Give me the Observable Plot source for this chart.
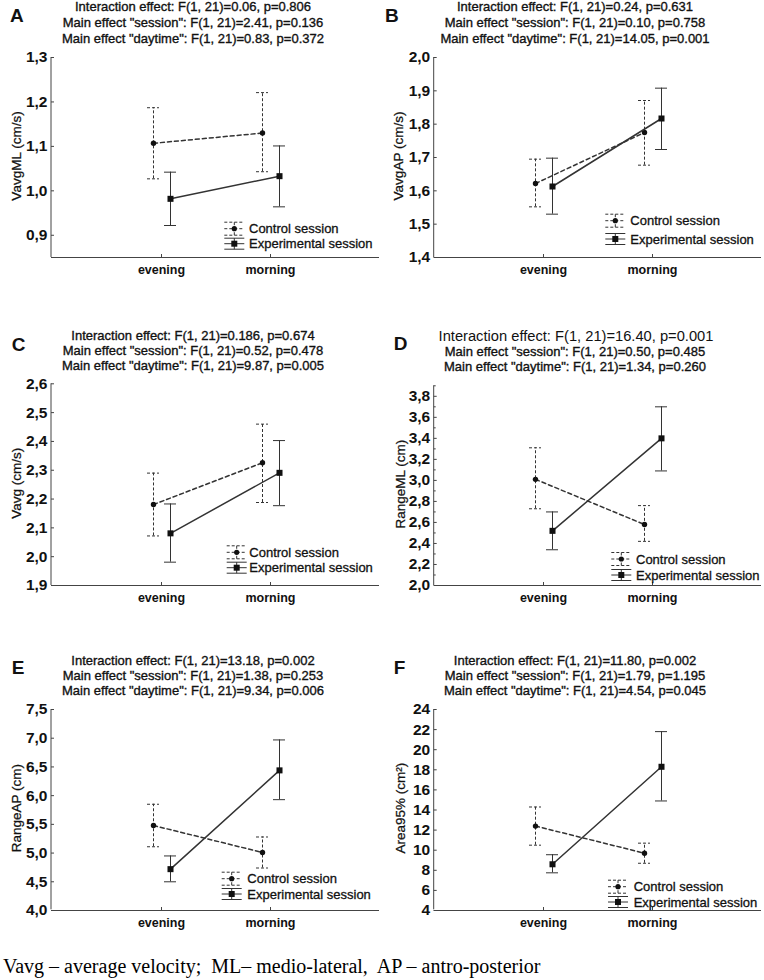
<!DOCTYPE html>
<html>
<head>
<meta charset="utf-8">
<script src="https://cdn.jsdelivr.net/npm/d3@7"></script>
<script src="https://cdn.jsdelivr.net/npm/@observablehq/plot@0.6"></script>
<style>
  html, body { margin: 0; padding: 0; background: #fff; }
  #root { position: relative; width: 764px; height: 980px; overflow: hidden; }
  .panel { position: absolute; }
  #caption { position: absolute; left: 3px; top: 956px; font-family: "Liberation Serif", "Times New Roman", serif; font-size: 20px; line-height: 20px; white-space: pre; color: #000; }
</style>
</head>
<body>
<div id="root"></div>
<script>
// ---------------- data ----------------
const daytimes = ["evening", "morning"];
const sessionNames = ["Control session", "Experimental session"];
const panelLetters = ["A", "B", "C", "D", "E", "F"];
const yTitles = ["VavgML (cm/s)", "VavgAP (cm/s)", "Vavg (cm/s)", "RangeML (cm)", "RangeAP (cm)", "Area95% (cm²)"];
const interactionLines = [
  "Interaction effect: F(1, 21)=0.06, p=0.806",
  "Interaction effect: F(1, 21)=0.24, p=0.631",
  "Interaction effect: F(1, 21)=0.186, p=0.674",
  "Interaction effect: F(1, 21)=16.40, p=0.001",
  "Interaction effect: F(1, 21)=13.18, p=0.002",
  "Interaction effect: F(1, 21)=11.80, p=0.002"
];
const sessionLines = [
  'Main effect "session": F(1, 21)=2.41, p=0.136',
  'Main effect "session": F(1, 21)=0.10, p=0.758',
  'Main effect "session": F(1, 21)=0.52, p=0.478',
  'Main effect "session": F(1, 21)=0.50, p=0.485',
  'Main effect "session": F(1, 21)=1.38, p=0.253',
  'Main effect "session": F(1, 21)=1.79, p=1.195'
];
const daytimeLines = [
  'Main effect "daytime": F(1, 21)=0.83, p=0.372',
  'Main effect "daytime": F(1, 21)=14.05, p=0.001',
  'Main effect "daytime": F(1, 21)=9.87, p=0.005',
  'Main effect "daytime": F(1, 21)=1.34, p=0.260',
  'Main effect "daytime": F(1, 21)=9.34, p=0.006',
  'Main effect "daytime": F(1, 21)=4.54, p=0.045'
];
const yDomains = [[0.85, 1.3], [1.4, 2.0], [1.9, 2.6], [2.0, 3.9], [4.0, 7.5], [4, 24]];
const yTickValues = [
  [0.9, 1.0, 1.1, 1.2, 1.3],
  [1.4, 1.5, 1.6, 1.7, 1.8, 1.9, 2.0],
  [1.9, 2.0, 2.1, 2.2, 2.3, 2.4, 2.5, 2.6],
  [2.0, 2.2, 2.4, 2.6, 2.8, 3.0, 3.2, 3.4, 3.6, 3.8],
  [4.0, 4.5, 5.0, 5.5, 6.0, 6.5, 7.0, 7.5],
  [4, 6, 8, 10, 12, 14, 16, 18, 20, 22, 24]
];
const yMinorTicks = [[], [], [], [2.1, 2.3, 2.5, 2.7, 2.9, 3.1, 3.3, 3.5, 3.7, 3.9], [], []];
// means and 95% CI (evening, morning)
const ctrlMean = [[1.107, 1.130], [1.622, 1.775], [2.181, 2.326], [3.01, 2.58], [5.48, 5.01], [12.4, 9.7]];
const ctrlLow  = [[1.027, 1.043], [1.552, 1.677], [2.072, 2.188], [2.73, 2.42], [5.11, 4.74], [10.5, 8.7]];
const ctrlHigh = [[1.187, 1.221], [1.695, 1.871], [2.290, 2.460], [3.31, 2.76], [5.85, 5.28], [14.3, 10.7]];
const expMean  = [[0.982, 1.033], [1.613, 1.817], [2.081, 2.291], [2.52, 3.40], [4.72, 6.44], [8.6, 18.3]];
const expLow   = [[0.922, 0.964], [1.530, 1.724], [1.981, 2.177], [2.34, 3.09], [4.50, 5.93], [7.75, 14.9]];
const expHigh  = [[1.042, 1.101], [1.698, 1.908], [2.183, 2.403], [2.70, 3.70], [4.95, 6.97], [9.55, 21.8]];
const captionText = "Vavg – average velocity;  ML– medio-lateral,  AP – antro-posterior";

// ---------------- layout (page pixels) ----------------
const layout = [
  {col: 0, rowTop: 0,   frameTop: 57,    frameBottom: 257,   titleY: [11, 27, 42.5],     letter: [10, 21.7], yLabelX: 16.7, legX: 234.3, legTextX: 249,   legY: [228.7, 243.7]},
  {col: 1, rowTop: 0,   frameTop: 57,    frameBottom: 257,   titleY: [11, 27, 42.5],     letter: [3, 21.7],  yLabelX: 16.7, legX: 233.3, legTextX: 248.3, legY: [220.7, 239]},
  {col: 0, rowTop: 300, frameTop: 383.3, frameBottom: 585,   titleY: [339.6, 354.6, 369.6], letter: [11.7, 350.7], yLabelX: 16.7, legX: 236.7, legTextX: 249.3, legY: [552.3, 567.7]},
  {col: 1, rowTop: 300, frameTop: 385.3, frameBottom: 585,   titleY: [341.3, 356.3, 371.3], letter: [11.7, 350], yLabelX: 18.3, legX: 239.3, legTextX: 254, legY: [559, 575], bigFirst: true},
  {col: 0, rowTop: 610, frameTop: 709,   frameBottom: 909.3, titleY: [664.6, 679.6, 694.6], letter: [11.7, 674], yLabelX: 16.7, legX: 231.7, legTextX: 247.3, legY: [878.7, 894]},
  {col: 1, rowTop: 610, frameTop: 709,   frameBottom: 909.3, titleY: [664.6, 679.6, 694.6], letter: [11.7, 674], yLabelX: 18.3, legX: 236, legTextX: 251.7, legY: [886.7, 902]}
];

const FONT = "'Liberation Sans', Arial, sans-serif";
const INK = "#111";
const LINE = "#333";
const AXIS = "#444";
const root = document.getElementById("root");

layout.forEach((L, i) => {
  const colX = L.col * 382;
  const mt = L.frameTop - L.rowTop;
  const mb = 32;
  const H = Math.ceil(L.frameBottom - L.rowTop + mb);
  const ml = L.col === 0 ? 51 : 51.7;

  const ctrl = daytimes.map((d, j) => ({daytime: d, session: sessionNames[0], mean: ctrlMean[i][j], low: ctrlLow[i][j], high: ctrlHigh[i][j]}));
  const exp = daytimes.map((d, j) => ({daytime: d, session: sessionNames[1], mean: expMean[i][j], low: expLow[i][j], high: expHigh[i][j]}));
  const fmt = i === 5 ? d3.format("d") : (d => d3.format(".1f")(d).replace(".", ","));

  const marks = [
    Plot.axisY({ticks: yTickValues[i], tickFormat: fmt, tickSize: -3, tickPadding: 7, label: null, stroke: AXIS}),
    Plot.axisX({tickSize: -3, tickPadding: 11, label: null, stroke: AXIS}),
    Plot.ruleY([yDomains[i][0]], {stroke: AXIS})
  ];
  if (yMinorTicks[i].length) {
    marks.push(Plot.axisY({ticks: yMinorTicks[i], tickFormat: () => "", tickSize: -2, label: null, stroke: AXIS}));
  }
  const dC = -8, dE = 9;
  marks.push(
    Plot.ruleX(ctrl, {x: "daytime", y1: "low", y2: "high", dx: dC, stroke: LINE, strokeDasharray: "3,2"}),
    Plot.tickY(ctrl, {x: "daytime", y: "high", dx: dC, stroke: LINE, strokeDasharray: "3,2"}),
    Plot.tickY(ctrl, {x: "daytime", y: "low", dx: dC, stroke: LINE, strokeDasharray: "3,2"}),
    Plot.line(ctrl, {x: "daytime", y: "mean", dx: dC, stroke: LINE, strokeDasharray: "4,3"}),
    Plot.dot(ctrl, {x: "daytime", y: "mean", dx: dC, r: 2.7, fill: INK, stroke: null}),
    Plot.ruleX(exp, {x: "daytime", y1: "low", y2: "high", dx: dE, stroke: LINE}),
    Plot.tickY(exp, {x: "daytime", y: "high", dx: dE, stroke: LINE}),
    Plot.tickY(exp, {x: "daytime", y: "low", dx: dE, stroke: LINE}),
    Plot.line(exp, {x: "daytime", y: "mean", dx: dE, stroke: LINE}),
    Plot.dot(exp, {x: "daytime", y: "mean", dx: dE, r: 3.4, symbol: "square", fill: INK, stroke: null})
  );

  const svgEl = Plot.plot({
    width: 382,
    height: H,
    marginLeft: ml,
    marginRight: 3,
    marginTop: mt,
    marginBottom: mb,
    style: {fontFamily: FONT, color: INK, background: "transparent", overflow: "visible"},
    x: {type: "band", domain: daytimes, paddingInner: 0.89, paddingOuter: 0.945},
    y: {domain: yDomains[i]},
    marks
  });

  const div = document.createElement("div");
  div.className = "panel";
  div.style.left = colX + "px";
  div.style.top = L.rowTop + "px";
  div.appendChild(svgEl);
  root.appendChild(div);

  const svg = d3.select(svgEl);
  // axis tick label fonts
  svg.selectAll("g[aria-label='y-axis tick label']")
    .attr("font-size", 15.5).attr("font-weight", "bold").attr("fill", INK);
  svg.selectAll("g[aria-label='y-axis tick label'] text").attr("font-size", null);
  svg.selectAll("g[aria-label='x-axis tick label']")
    .attr("font-size", 12.5).attr("font-weight", "bold").attr("fill", INK);
  svg.selectAll("g[aria-label='x-axis tick label'] text").attr("font-size", null);

  // left axis line (frame edge)
  svg.append("line")
    .attr("x1", ml).attr("x2", ml)
    .attr("y1", mt).attr("y2", L.frameBottom - L.rowTop)
    .attr("stroke", AXIS).attr("stroke-width", 1);

  const g = svg.append("g").attr("font-family", FONT).attr("fill", INK).attr("text-anchor", "start");

  // panel letter
  g.append("text").attr("x", L.letter[0]).attr("y", L.letter[1] - L.rowTop)
    .attr("font-size", 19).attr("font-weight", "bold").text(panelLetters[i]);

  // titles
  const titles = [interactionLines[i], sessionLines[i], daytimeLines[i]];
  titles.forEach((t, k) => {
    const big = L.bigFirst && k === 0;
    g.append("text")
      .attr("x", 193 + (big ? 1 : 0))
      .attr("y", L.titleY[k] - L.rowTop)
      .attr("text-anchor", "middle")
      .attr("font-size", big ? 14.7 : 13)
      .attr("stroke", big ? "none" : INK)
      .attr("stroke-width", 0.35)
      .text(t);
  });

  // y axis label
  const cy = (L.frameTop + L.frameBottom) / 2 - 1 - L.rowTop;
  g.append("text")
    .attr("transform", `translate(${L.yLabelX},${cy}) rotate(-90)`)
    .attr("text-anchor", "middle").attr("dy", "0.35em")
    .attr("font-size", 13.5).attr("stroke", INK).attr("stroke-width", 0.25)
    .text(yTitles[i]);

  // legend
  const leg = g.append("g");
  [0, 1].forEach(k => {
    const y = L.legY[k] - L.rowTop;
    const x = L.legX;
    const dashed = k === 0;
    const half = 10, cap = k === 0 ? 6.5 : 5.5;
    const s = leg.append("g").attr("stroke", LINE).attr("stroke-width", 1)
      .attr("stroke-dasharray", dashed ? "3,2" : null);
    s.append("line").attr("x1", x - half).attr("x2", x + half).attr("y1", y - cap).attr("y2", y - cap);
    s.append("line").attr("x1", x - half).attr("x2", x + half).attr("y1", y + cap).attr("y2", y + cap);
    s.append("line").attr("x1", x - half).attr("x2", x + half).attr("y1", y).attr("y2", y);
    s.append("line").attr("x1", x).attr("x2", x).attr("y1", y - cap).attr("y2", y + cap);
    if (dashed) leg.append("circle").attr("cx", x).attr("cy", y).attr("r", 2.6).attr("fill", INK);
    else leg.append("rect").attr("x", x - 3).attr("y", y - 3).attr("width", 6).attr("height", 6).attr("fill", INK);
    leg.append("text").attr("x", L.legTextX).attr("y", y).attr("dy", "0.35em")
      .attr("font-size", 13).attr("stroke", INK).attr("stroke-width", 0.3)
      .text(sessionNames[k]);
  });
});

const cap = document.createElement("div");
cap.id = "caption";
cap.textContent = captionText;
root.appendChild(cap);
</script>
</body>
</html>
